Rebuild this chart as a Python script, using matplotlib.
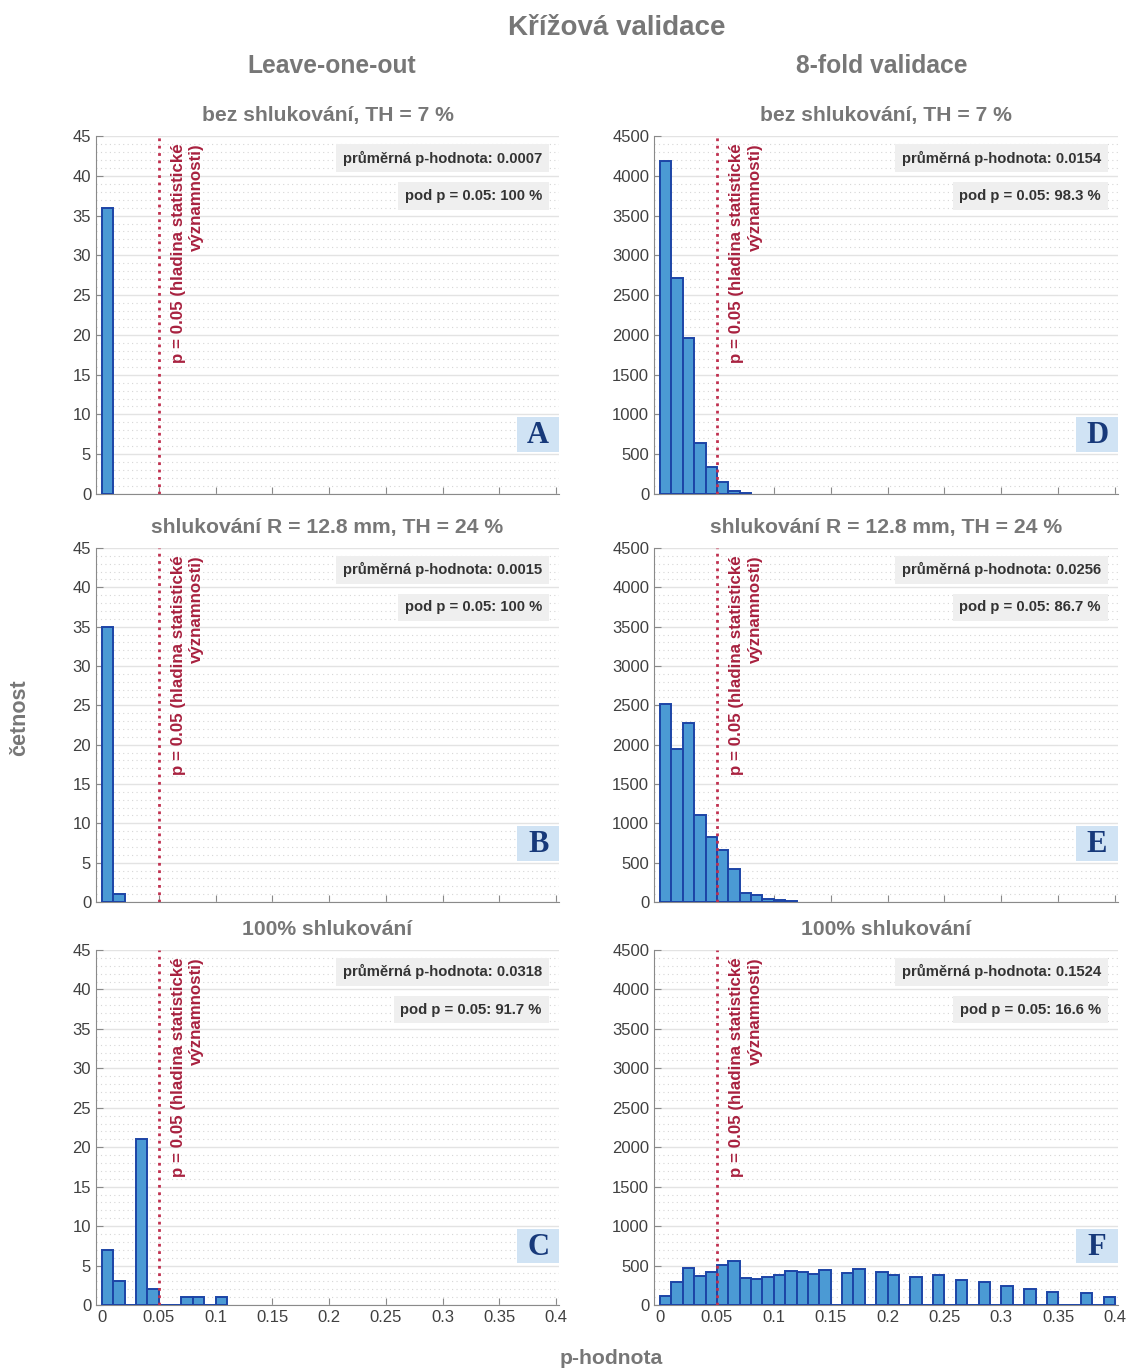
import numpy as np
import matplotlib.pyplot as plt
from matplotlib.patches import Rectangle
from matplotlib.ticker import MultipleLocator, FuncFormatter

plt.rcParams['font.family'] = ['Liberation Sans', 'DejaVu Sans']

# histogram counts per 0.01-wide bin, starting at p = 0
bin_width = 0.01
counts_A = [36]
counts_B = [35, 1]
counts_C = [7, 3, 0, 21, 2, 0, 0, 1, 1, 0, 1]
counts_D = [4190, 2710, 1960, 645, 335, 150, 40, 10]
counts_E = [2520, 1950, 2280, 1110, 830, 660, 420, 120, 95, 40, 25, 8]
counts_F = [109, 294, 466, 370, 416, 508, 559, 336, 332, 361,
            374, 437, 412, 395, 450, 0, 407, 462, 0, 420,
            378, 0, 361, 0, 386, 0, 315, 0, 290, 0,
            244, 0, 197, 0, 168, 0, 0, 151, 0, 105]

letters = ['A', 'B', 'C', 'D', 'E', 'F']
row_titles = ['bez shlukování, TH = 7 %', 'shlukování R = 12.8 mm, TH = 24 %', '100% shlukování']
col_titles = ['Leave-one-out', '8-fold validace']
mean_p = ['0.0007', '0.0015', '0.0318', '0.0154', '0.0256', '0.1524']
below = ['100', '100', '91.7', '98.3', '86.7', '16.6']

all_counts = [counts_A, counts_B, counts_C, counts_D, counts_E, counts_F]
ymax = [45, 45, 45, 4500, 4500, 4500]
ystep = [5, 5, 5, 500, 500, 500]

W, H = 1132, 1371
fig = plt.figure(figsize=(W / 100, H / 100), dpi=100)

gray = '#777777'
red = '#a8213f'
rows_px = [(136, 494), (548, 902), (950, 1305)]
cols_px = [(96, 559), (654, 1118)]

for i in range(6):
    col, row = i // 3, i % 3
    x0, x1 = cols_px[col]
    y0, y1 = rows_px[row]
    ax = fig.add_axes([x0 / W, 1 - y1 / H, (x1 - x0) / W, (y1 - y0) / H])
    counts = all_counts[i]
    edges = np.arange(len(counts)) * bin_width
    ax.bar(edges, counts, width=bin_width, align='edge', color='#4b9ad4',
           edgecolor='#1c44a6', linewidth=1.4, zorder=3)

    ax.set_xlim(-0.0053, 0.4025)
    ax.set_ylim(0, ymax[i])
    ax.yaxis.set_major_locator(MultipleLocator(ystep[i]))
    ax.yaxis.set_minor_locator(MultipleLocator(ystep[i] / 5))
    ax.xaxis.set_major_locator(MultipleLocator(0.05))
    ax.grid(axis='y', which='major', color='#e3e3e3', lw=1, zorder=0)
    ax.grid(axis='y', which='minor', color='#d6d6d6', lw=0.8, ls=(0, (1, 3)), zorder=0)
    for s in ['top', 'right']:
        ax.spines[s].set_visible(False)
    for s in ['left', 'bottom']:
        ax.spines[s].set_color('#8a8a8a')
    ax.tick_params(direction='in', colors='#8a8a8a', labelcolor='#404040', labelsize=12, length=5)
    ax.tick_params(which='minor', length=0)
    if row == 2:
        ax.xaxis.set_major_formatter(FuncFormatter(lambda v, p: '%g' % round(v, 2)))
    else:
        ax.set_xticklabels([])

    ax.set_title(row_titles[row], fontsize=15.2, fontweight='bold', color=gray, pad=11)

    # significance line
    ax.axvline(0.05, color='#c0304f', ls=':', lw=2, zorder=4)
    ax.text(0.0605, 0.98 * ymax[i], 'p = 0.05 (hladina statistické\nvýznamnosti)',
            rotation=90, ha='left', va='top', multialignment='right',
            color=red, fontsize=12.2, fontweight='bold', linespacing=1.3, zorder=5)

    box = dict(boxstyle='square,pad=0.45', fc='#efefef', ec='none')
    ax.text(0.963, 0.9385, 'průměrná p-hodnota: ' + mean_p[i], transform=ax.transAxes,
            ha='right', va='center', fontsize=10.7, fontweight='bold', color='#333333',
            bbox=box, zorder=6)
    ax.text(0.963, 0.832, 'pod p = 0.05: ' + below[i] + ' %', transform=ax.transAxes,
            ha='right', va='center', fontsize=10.7, fontweight='bold', color='#333333',
            bbox=box, zorder=6)

    ax.add_patch(Rectangle((0.909, 0.117), 0.091, 0.098, transform=ax.transAxes,
                           fc='#d0e3f4', ec='none', zorder=6, clip_on=False))
    ax.text(0.955, 0.163, letters[i], transform=ax.transAxes, ha='center', va='center',
            fontsize=22, fontweight='bold', family='Liberation Serif', color='#17397a',
            zorder=7)

fig.text(617 / W, 1 - 28 / H, 'Křížová validace', ha='center', va='center',
         fontsize=20, fontweight='bold', color=gray)
fig.text(332 / W, 1 - 66 / H, col_titles[0], ha='center', va='center',
         fontsize=17.7, fontweight='bold', color=gray)
fig.text(882 / W, 1 - 66 / H, col_titles[1], ha='center', va='center',
         fontsize=17.7, fontweight='bold', color=gray)
fig.text(20 / W, 1 - 718 / H, 'četnost', rotation=90, ha='center', va='center',
         fontsize=15.5, fontweight='bold', color=gray)
fig.text(611 / W, 1 - 1359 / H, 'p-hodnota', ha='center', va='center',
         fontsize=15.2, fontweight='bold', color=gray)

fig.savefig('out.png', dpi=100, facecolor='white')
